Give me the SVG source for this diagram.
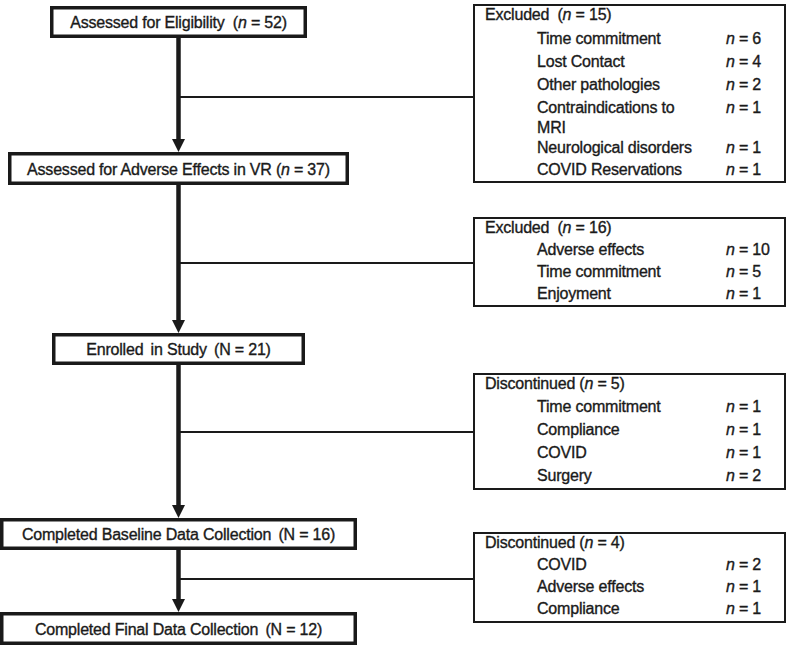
<svg xmlns="http://www.w3.org/2000/svg" width="787" height="648" viewBox="0 0 787 648">
<style>
.nb{fill:#fff;stroke:#1a1a1a;stroke-width:3.5}
.rb{fill:#fff;stroke:#1a1a1a;stroke-width:2}
.t{font-family:"Liberation Sans",Arial,sans-serif;font-size:16px;fill:#1a1a1a;stroke:#1a1a1a;stroke-width:0.35px;letter-spacing:-0.2px}
.c{text-anchor:middle}
.i{font-style:italic}
.main{stroke:#1a1a1a;stroke-width:4.5;fill:none;marker-end:url(#ah)}
.br{stroke:#1a1a1a;stroke-width:2;fill:none}
</style>
<defs>
<marker id="ah" markerUnits="userSpaceOnUse" markerWidth="14" markerHeight="13" refX="0" refY="6.5" orient="auto">
<path d="M0,0 L13,6.5 L0,13 Z" fill="#1a1a1a"/>
</marker>
</defs>
<rect width="787" height="648" fill="#fff"/>
<g id="connectors">
<line class="main" x1="178.5" y1="38" x2="178.5" y2="139"/>
<line class="main" x1="178.5" y1="185" x2="178.5" y2="320"/>
<line class="main" x1="178.5" y1="365" x2="178.5" y2="505"/>
<line class="main" x1="178.5" y1="550" x2="178.5" y2="599"/>
<line class="br" x1="178.5" y1="97" x2="474" y2="97"/>
<line class="br" x1="178.5" y1="263" x2="474" y2="263"/>
<line class="br" x1="178.5" y1="432" x2="474" y2="432"/>
<line class="br" x1="178.5" y1="579" x2="474" y2="579"/>
</g>
<g id="eligibility">
<rect class="nb" x="51.75" y="7.75" width="253.5" height="28.5"/>
<text class="t c" x="178.5" y="28">Assessed for Eligibility <tspan dx="4">(</tspan><tspan class="i">n</tspan> = 52)</text>
</g>
<g id="adverse">
<rect class="nb" x="9.75" y="153.75" width="337.5" height="29.5"/>
<text class="t c" x="178.5" y="175">Assessed for Adverse Effects in VR (<tspan class="i">n</tspan> = 37)</text>
</g>
<g id="enrolled">
<rect class="nb" x="53.75" y="334.75" width="249.5" height="28.5"/>
<text class="t c" x="178.5" y="355">Enrolled <tspan dx="3">in</tspan> Study <tspan dx="3">(N = 21)</tspan></text>
</g>
<g id="baseline">
<rect class="nb" x="1.75" y="519.75" width="353.5" height="28.5"/>
<text class="t c" x="178.5" y="540">Completed Baseline Data Collection <tspan dx="3">(N = 16)</tspan></text>
</g>
<g id="final">
<rect class="nb" x="1.75" y="613.75" width="353.5" height="29.5"/>
<text class="t c" x="178.5" y="635">Completed Final Data Collection <tspan dx="3">(N = 12)</tspan></text>
</g>
<g id="excluded1">
<rect class="rb" x="474" y="5" width="311" height="177"/>
<text class="t" x="485" y="20">Excluded <tspan dx="4">(</tspan><tspan class="i">n</tspan> = 15)</text>
<text class="t" x="537" y="44">Time commitment</text>
<text class="t" x="726" y="44"><tspan class="i">n</tspan> = 6</text>
<text class="t" x="537" y="67">Lost Contact</text>
<text class="t" x="726" y="67"><tspan class="i">n</tspan> = 4</text>
<text class="t" x="537" y="90">Other pathologies</text>
<text class="t" x="726" y="90"><tspan class="i">n</tspan> = 2</text>
<text class="t" x="537" y="113">Contraindications to</text>
<text class="t" x="726" y="113"><tspan class="i">n</tspan> = 1</text>
<text class="t" x="537" y="133">MRI</text>
<text class="t" x="537" y="153">Neurological disorders</text>
<text class="t" x="726" y="153"><tspan class="i">n</tspan> = 1</text>
<text class="t" x="537" y="175">COVID Reservations</text>
<text class="t" x="726" y="175"><tspan class="i">n</tspan> = 1</text>
</g>
<g id="excluded2">
<rect class="rb" x="474" y="218" width="311" height="88"/>
<text class="t" x="485" y="233">Excluded <tspan dx="4">(</tspan><tspan class="i">n</tspan> = 16)</text>
<text class="t" x="537" y="255">Adverse effects</text>
<text class="t" x="726" y="255"><tspan class="i">n</tspan> = 10</text>
<text class="t" x="537" y="277">Time commitment</text>
<text class="t" x="726" y="277"><tspan class="i">n</tspan> = 5</text>
<text class="t" x="537" y="299">Enjoyment</text>
<text class="t" x="726" y="299"><tspan class="i">n</tspan> = 1</text>
</g>
<g id="discontinued1">
<rect class="rb" x="474" y="374" width="311" height="115"/>
<text class="t" x="485" y="389">Discontinued (<tspan class="i">n</tspan> = 5)</text>
<text class="t" x="537" y="412">Time commitment</text>
<text class="t" x="726" y="412"><tspan class="i">n</tspan> = 1</text>
<text class="t" x="537" y="435">Compliance</text>
<text class="t" x="726" y="435"><tspan class="i">n</tspan> = 1</text>
<text class="t" x="537" y="458">COVID</text>
<text class="t" x="726" y="458"><tspan class="i">n</tspan> = 1</text>
<text class="t" x="537" y="481">Surgery</text>
<text class="t" x="726" y="481"><tspan class="i">n</tspan> = 2</text>
</g>
<g id="discontinued2">
<rect class="rb" x="474" y="533" width="311" height="89"/>
<text class="t" x="485" y="548">Discontinued (<tspan class="i">n</tspan> = 4)</text>
<text class="t" x="537" y="570">COVID</text>
<text class="t" x="726" y="570"><tspan class="i">n</tspan> = 2</text>
<text class="t" x="537" y="592">Adverse effects</text>
<text class="t" x="726" y="592"><tspan class="i">n</tspan> = 1</text>
<text class="t" x="537" y="614">Compliance</text>
<text class="t" x="726" y="614"><tspan class="i">n</tspan> = 1</text>
</g>
</svg>
